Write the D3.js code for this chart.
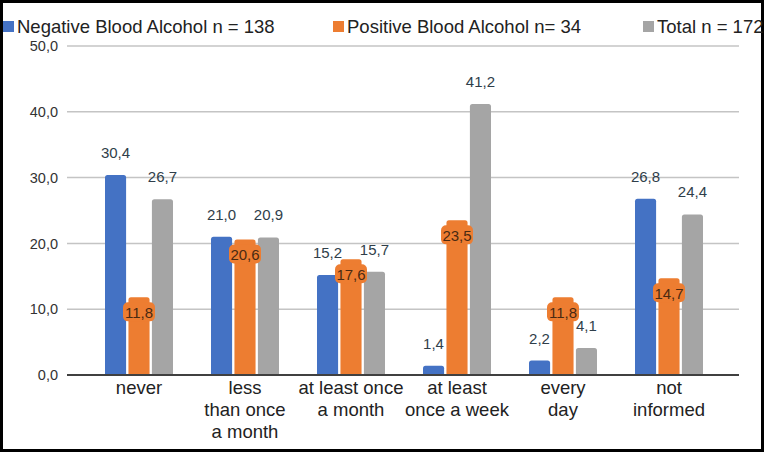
<!DOCTYPE html>
<html><head><meta charset="utf-8">
<script src="https://cdn.jsdelivr.net/npm/d3@7"></script>
<style>body{margin:0;background:#fff}svg{display:block}</style>
</head><body><svg id="c" width="768" height="454"></svg>
<script>
const categories = [["never"],["less","than once","a month"],["at least once","a month"],["at least","once a week"],["every","day"],["not","informed"]];
const seriesNames = ["Negative Blood Alcohol n = 138","Positive Blood Alcohol n= 34","Total n = 172"];
const negative = [30.4, 21.0, 15.2, 1.4, 2.2, 26.8];
const positive = [11.8, 20.6, 17.6, 23.5, 11.8, 14.7];
const total = [26.7, 20.9, 15.7, 41.2, 4.1, 24.4];
const yTicks = [0, 10, 20, 30, 40, 50];
const colors = ["#4472C4", "#ED7D31", "#A5A5A5"];

const svg = d3.select("#c");
const series = [negative, positive, total];
const fmt = v => v.toFixed(1).replace(".", ",");

const y = d3.scaleLinear().domain([0, 50]).range([375, 46]);
const x0 = d3.scaleBand().domain(d3.range(categories.length)).range([86, 722]).paddingInner(0).paddingOuter(0);
const x1 = d3.scaleBand().domain([0,1,2]).range([x0.bandwidth()/2 - 34, x0.bandwidth()/2 + 34]).paddingInner(0.1);

// border
svg.append("rect").attr("x",1.5).attr("y",1.5).attr("width",761).attr("height",449)
  .attr("fill","none").attr("stroke","#000").attr("stroke-width",3);

const lblFont = "'Liberation Sans', Arial, sans-serif";

// y axis labels
const yAxis = d3.axisLeft(y).tickValues(yTicks).tickFormat(d => fmt(d)).tickSize(0).tickPadding(9);
const gy = svg.append("g").attr("transform","translate(67,0)").call(yAxis);
gy.select(".domain").remove();
gy.selectAll("text").attr("font-family",lblFont).attr("font-size",14.5).attr("fill","#333");
// gridlines
svg.append("g").selectAll("line").data(yTicks.filter(d=>d>0)).join("line")
  .attr("x1",67).attr("x2",739).attr("y1",d=>y(d)).attr("y2",d=>y(d))
  .attr("stroke","#c4c4c4").attr("stroke-width",1.5);

// bars
const groups = svg.append("g").selectAll("g").data(categories).join("g")
  .attr("transform",(d,i)=>`translate(${x0(i)},0)`);
series.forEach((s, si) => {
  groups.append("path")
    .attr("fill", colors[si])
    .attr("d", (d,i) => {
      const bx = x1(si), w = x1.bandwidth(), top = y(s[i]), bot = y(0), r = Math.min(2.5, (bot-top)/2);
      return `M${bx},${bot}V${top+r}Q${bx},${top} ${bx+r},${top}H${bx+w-r}Q${bx+w},${top} ${bx+w},${top+r}V${bot}Z`;
    });
});

// baseline
svg.append("line").attr("x1",67).attr("x2",739).attr("y1",y(0)).attr("y2",y(0)).attr("stroke","#404040").attr("stroke-width",2);

// value labels
[0,2].forEach(si => {
  groups.append("text")
    .attr("x", x1(si) + x1.bandwidth()/2)
    .attr("y", (d,i) => y(series[si][i]) - 17)
    .attr("text-anchor","middle").attr("font-family",lblFont).attr("font-size",15).attr("fill","#2f3e4a")
    .text((d,i)=>fmt(series[si][i]));
});
groups.each(function(d,i){
  const g = d3.select(this);
  const cx = x1(1) + x1.bandwidth()/2, cy = y(positive[i]) + 15;
  g.append("rect").attr("x",cx-16).attr("y",cy-10).attr("width",32).attr("height",19).attr("rx",5)
    .attr("fill",colors[1]);
  g.append("text").attr("x",cx).attr("y",cy+5.5).attr("text-anchor","middle")
    .attr("font-family",lblFont).attr("font-size",15).attr("fill","#4a2a12").text(fmt(positive[i]));
});

// x labels
groups.append("text").attr("text-anchor","middle")
  .attr("font-family",lblFont).attr("font-size",18.5).attr("fill","#222")
  .each(function(d){
    d3.select(this).selectAll("tspan").data(d).join("tspan")
      .attr("x", x0.bandwidth()/2).attr("y",(t,k)=>394 + k*22).text(t=>t);
  });

// legend
const legX = [3, 333, 643];
const leg = svg.append("g").selectAll("g").data(seriesNames).join("g")
  .attr("transform",(d,i)=>`translate(${legX[i]},0)`);
leg.append("rect").attr("x",0).attr("y",21).attr("width",11).attr("height",11).attr("fill",(d,i)=>colors[i]);
leg.append("text").attr("x",14).attr("y",33).attr("font-family",lblFont)
  .attr("font-size",18.5).attr("fill","#222").text(d=>d);
</script></body></html>
